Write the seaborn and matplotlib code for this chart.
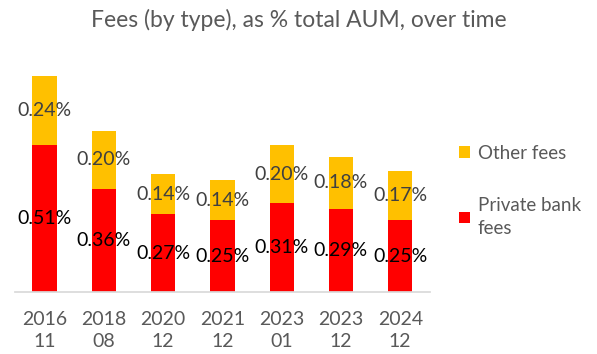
import matplotlib

matplotlib.use("Agg")
import matplotlib.pyplot as plt
import pandas as pd
import seaborn as sns

periods = ["2016\n11", "2018\n08", "2020\n12", "2021\n12", "2023\n01", "2023\n12", "2024\n12"]
private_bank = [0.51, 0.36, 0.27, 0.25, 0.31, 0.29, 0.25]
other_fees = [0.24, 0.20, 0.14, 0.14, 0.20, 0.18, 0.17]

RED = "#FF0000"
GOLD = "#FFC000"
GREY = "#595959"

sns.set_theme(style="white")
plt.rcParams["font.family"] = ["Lato", "DejaVu Sans"]

df = pd.DataFrame({"period": periods, "private": private_bank, "other": other_fees})

fig = plt.figure(figsize=(5.97, 3.54), dpi=100)
ax = fig.add_axes([0.025, 0.175, 0.695, 0.65])

sns.barplot(data=df, x="period", y="private", color=RED, width=0.41,
            saturation=1, linewidth=0, label="Private bank\nfees", ax=ax)
sns.barplot(data=df, x="period", y="other", bottom=df["private"], color=GOLD,
            width=0.41, saturation=1, linewidth=0, label="Other fees", ax=ax)

ax.bar_label(ax.containers[0], labels=[f"{v:.2f}%" for v in private_bank],
             label_type="center", fontsize=14, color="black")
ax.bar_label(ax.containers[1], labels=[f"{v:.2f}%" for v in other_fees],
             label_type="center", fontsize=14, color="#404040")

ax.set_ylim(0, 0.8)
ax.set_xlim(-0.5, 6.5)
ax.set_xlabel("")
ax.set_ylabel("")
ax.set_yticks([])
ax.tick_params(axis="x", labelsize=14, labelcolor=GREY, length=0, pad=14)
for lbl in ax.get_xticklabels():
    lbl.set_linespacing(1.35)
for s in ["top", "right", "left"]:
    ax.spines[s].set_visible(False)
ax.spines["bottom"].set_color("#D9D9D9")

handles, labels = ax.get_legend_handles_labels()
leg = ax.legend(handles[::-1], labels[::-1], loc="center left", bbox_to_anchor=(1.03, 0.44),
                frameon=False, fontsize=13.5, labelcolor=GREY, handlelength=0.6,
                handleheight=0.6, handletextpad=0.4, labelspacing=1.9)
for t in leg.get_texts():
    t.set_linespacing(1.4)

fig.text(0.5, 0.945, "Fees (by type), as % total AUM, over time", ha="center",
         va="center", fontsize=16.5, color=GREY)

fig.savefig("out.png", dpi=100)
